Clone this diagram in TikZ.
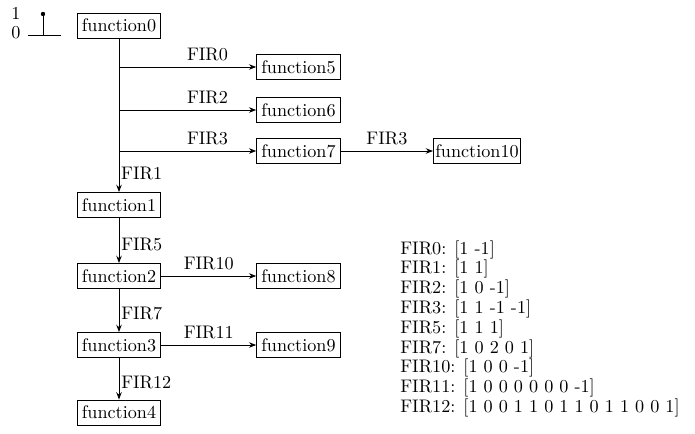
\documentclass[tikz,border=0pt]{standalone}
\usetikzlibrary{arrows.meta}
\begin{document}
\begin{tikzpicture}[x=0.55pt,y=-0.55pt,
  fbox/.style={draw, line width=0.5pt, minimum width=46pt, minimum height=13.75pt, inner sep=1pt},
  conn/.style={line width=0.5pt, -{Stealth[length=4pt,width=3pt]}},
  plain/.style={line width=0.5pt},
  lab/.style={inner sep=1pt},
  leg/.style={anchor=base west, inner sep=0pt}]
\useasboundingbox (0,0) rectangle (695,433);
% impulse symbol
\node (one) at (16,13) {1};
\node (zero) at (16,33) {0};
\draw[plain] (28,35) -- (61,35);
\draw[plain] (43,35) -- (43,14);
\fill (43,14) circle[radius=1.2pt];
% function boxes
\node[fbox] (f0) at (119,25.5) {function0};
\node[fbox] (f5) at (298.5,67) {function5};
\node[fbox] (f6) at (298.5,110) {function6};
\node[fbox] (f7) at (298.5,151) {function7};
\node[fbox] (f10) at (477,151) {function10};
\node[fbox] (f1) at (119,205) {function1};
\node[fbox] (f2) at (119,276) {function2};
\node[fbox] (f8) at (298.5,276) {function8};
\node[fbox] (f3) at (119,345) {function3};
\node[fbox] (f9) at (298.5,345) {function9};
\node[fbox] (f4) at (119,412.5) {function4};
% trunk
\draw[conn] (f0) -- (f1);
\coordinate (b5) at (f0.south |- f5);
\coordinate (b6) at (f0.south |- f6);
\coordinate (b7) at (f0.south |- f7);
\draw[conn] (b5) -- (f5) node[pos=0.645, above] {FIR0};
\draw[conn] (b6) -- (f6) node[pos=0.645, above] {FIR2};
\draw[conn] (b7) -- (f7) node[pos=0.645, above] {FIR3};
\draw[conn] (f7) -- (f10) node[midway, above] {FIR3};
\node[lab, anchor=west] (l1) at (119,173) {FIR1};
\draw[conn] (f1) -- (f2) node[pos=0.58, right, lab] {FIR5};
\draw[conn] (f2) -- (f3) node[pos=0.58, right, lab] {FIR7};
\draw[conn] (f3) -- (f4) node[pos=0.58, right, lab] {FIR12};
\draw[conn] (f2) -- (f8) node[midway, above] {FIR10};
\draw[conn] (f3) -- (f9) node[midway, above] {FIR11};
% legend
\node[leg] (g0) at (400,254) {FIR0: [1 -1]};
\node[leg] (g1) at (400,273.8) {FIR1: [1 1]};
\node[leg] (g2) at (400,293.6) {FIR2: [1 0 -1]};
\node[leg] (g3) at (400,313.4) {FIR3: [1 1 -1 -1]};
\node[leg] (g5) at (400,333.2) {FIR5: [1 1 1]};
\node[leg] (g7) at (400,353) {FIR7: [1 0 2 0 1]};
\node[leg] (g10) at (400,372.8) {FIR10: [1 0 0 -1]};
\node[leg] (g11) at (400,392.6) {FIR11: [1 0 0 0 0 0 0 -1]};
\node[leg] (g12) at (400,412.4) {FIR12: [1 0 0 1 1 0 1 1 0 1 1 0 0 1]};
\end{tikzpicture}
\end{document}
